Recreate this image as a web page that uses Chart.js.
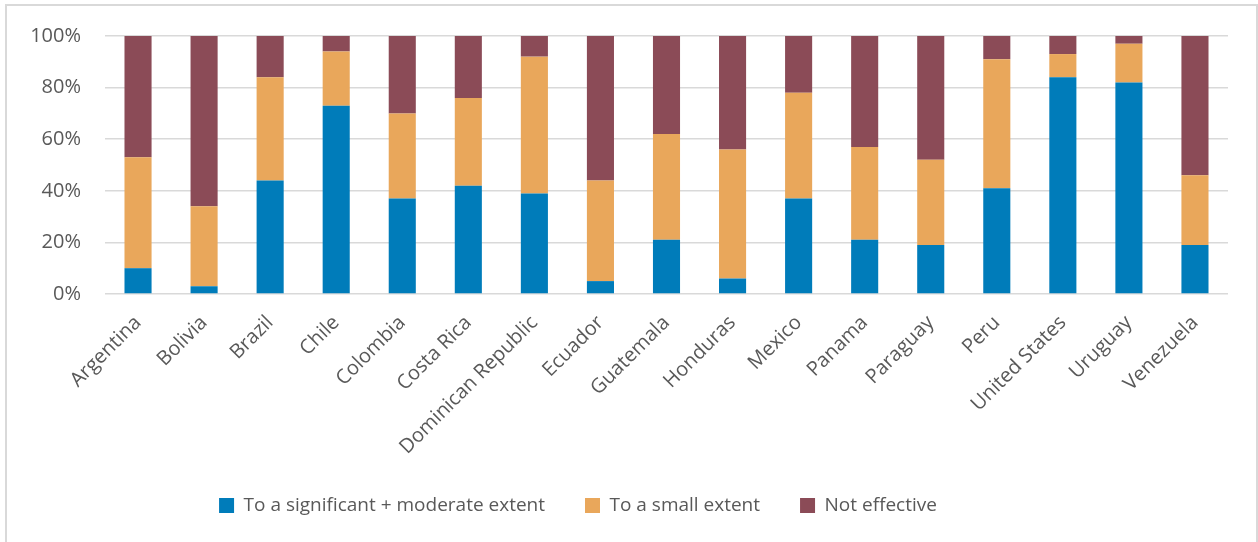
<!DOCTYPE html>
<html>
<head>
<meta charset="utf-8">
<script src="https://cdn.jsdelivr.net/npm/chart.js@4/dist/chart.umd.min.js"></script>
<style>
    body { margin: 0; background: #fff; }
    #frame {
        position: absolute; left: 5px; top: 4px; width: 1253px; height: 600px;
        box-sizing: border-box; border: 2px solid #d9d9d9; pointer-events: none;
    }
    canvas { position: absolute; left: 0; top: 0; }
</style>
</head>
<body>
<canvas id="chart" width="1258" height="542"></canvas>
<div id="frame"></div>
<script>
    var countries = ['Argentina', 'Bolivia', 'Brazil', 'Chile', 'Colombia', 'Costa Rica', 'Dominican Republic',
        'Ecuador', 'Guatemala', 'Honduras', 'Mexico', 'Panama', 'Paraguay', 'Peru', 'United States', 'Uruguay', 'Venezuela'];
    var seriesNames = ['To a significant + moderate extent', 'To a small extent', 'Not effective'];
    var significant = [10, 3, 44, 73, 37, 42, 39, 5, 21, 6, 37, 21, 19, 41, 84, 82, 19];
    var smallExtent = [43, 31, 40, 21, 33, 34, 53, 39, 41, 50, 41, 36, 33, 50, 9, 15, 27];
    var notEffective = [47, 66, 16, 6, 30, 24, 8, 56, 38, 44, 22, 43, 48, 9, 7, 3, 54];
    var yTicks = [0, 20, 40, 60, 80, 100];

    var colors = ['#007cba', '#e9a75b', '#8b4b57'];
    var textColor = '#595959';
    var tickFont = { family: "'Open Sans', sans-serif", size: 20 };

    function bars(i, values) {
        return {
            label: seriesNames[i],
            data: values,
            backgroundColor: colors[i],
            barPercentage: 0.41,
            categoryPercentage: 1
        };
    }

    // legend sits a bit left of centre in the original
    var shiftLegend = {
        id: 'shiftLegend',
        afterLayout: function (chart) {
            chart.legend.left -= 36;
            chart.legend.right -= 36;
        }
    };

    new Chart(document.getElementById('chart'), {
        type: 'bar',
        data: {
            labels: countries,
            datasets: [bars(0, significant), bars(1, smallExtent), bars(2, notEffective)]
        },
        plugins: [shiftLegend],
        options: {
            responsive: false,
            animation: false,
            layout: { padding: { left: 0, right: 30, top: 33, bottom: 17 } },
            plugins: {
                tooltip: { enabled: false },
                legend: {
                    position: 'bottom',
                    labels: {
                        color: textColor,
                        font: { family: "'Open Sans', sans-serif", size: 19 },
                        boxWidth: 15,
                        boxHeight: 15,
                        padding: 40
                    }
                }
            },
            scales: {
                x: {
                    stacked: true,
                    grid: { display: false },
                    border: { display: false },
                    ticks: {
                        color: textColor,
                        font: tickFont,
                        maxRotation: 45,
                        minRotation: 45,
                        autoSkip: false,
                        padding: 9
                    },
                    afterFit: function (scale) { scale.height = 162; }
                },
                y: {
                    stacked: true,
                    min: 0,
                    max: 100,
                    afterBuildTicks: function (scale) {
                        scale.ticks = yTicks.map(function (v) { return { value: v }; });
                    },
                    grid: { color: '#d9d9d9', lineWidth: 1.5, drawTicks: false },
                    border: { display: false },
                    ticks: {
                        color: textColor,
                        font: tickFont,
                        padding: 24,
                        callback: function (v) { return v + '%'; }
                    },
                    afterFit: function (scale) { scale.width = 105; }
                }
            }
        }
    });
</script>
</body>
</html>
